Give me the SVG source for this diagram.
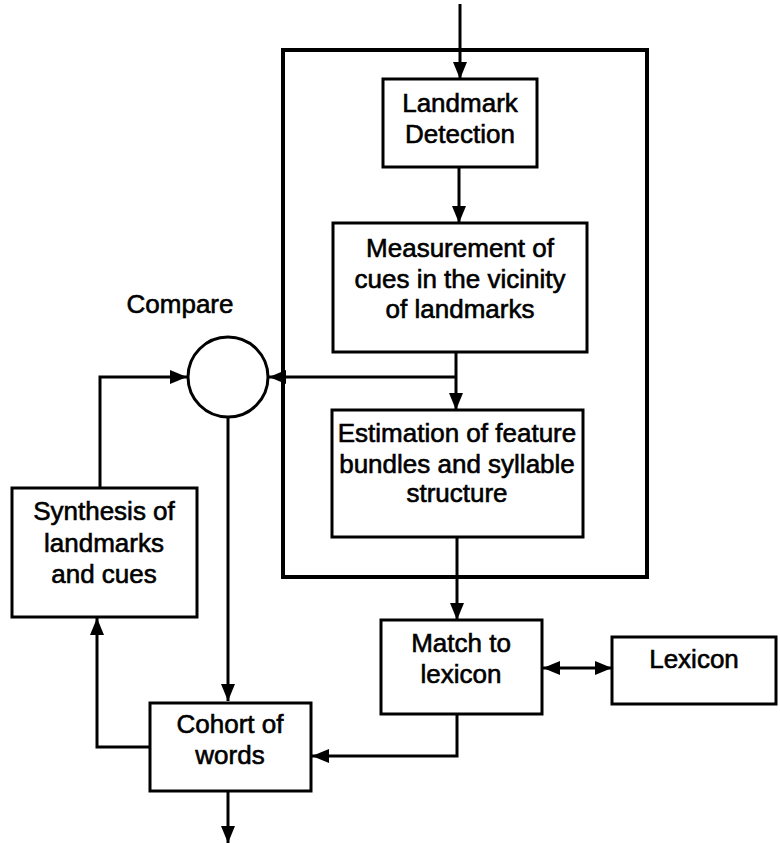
<svg xmlns="http://www.w3.org/2000/svg" width="780" height="843" viewBox="0 0 780 843">
<style>
  .box { fill: #ffffff; stroke: #000; stroke-width: 3; }
  .frame { fill: none; stroke: #000; stroke-width: 4; }
  .lbl { font-family: "Liberation Sans", Arial, sans-serif; font-size: 26px; fill: #000; stroke: #000; stroke-width: 0.6; text-anchor: middle; }
  .conn { fill: none; stroke: #000; stroke-width: 3; }
</style>
<defs>
  <marker id="arr" markerUnits="userSpaceOnUse" markerWidth="18" markerHeight="14" refX="17" refY="7" orient="auto">
    <path d="M0,0 L17,7 L0,14 z" fill="#000"/>
  </marker>
  <marker id="arrS" markerUnits="userSpaceOnUse" markerWidth="18" markerHeight="14" refX="1" refY="7" orient="auto">
    <path d="M18,0 L1,7 L18,14 z" fill="#000"/>
  </marker>
</defs>
<rect x="0" y="0" width="780" height="843" fill="#ffffff"/>

<g id="frame"><rect class="frame" x="283" y="50" width="364" height="527"/></g>

<g id="connectors">
  <line class="conn" x1="460" y1="4" x2="460" y2="79" marker-end="url(#arr)"/>
  <line class="conn" x1="459" y1="167" x2="459" y2="223" marker-end="url(#arr)"/>
  <line class="conn" x1="456" y1="352" x2="456" y2="410" marker-end="url(#arr)"/>
  <polyline class="conn" points="456,377 269,377" marker-end="url(#arr)"/>
  <polyline class="conn" points="100,488 100,377 187,377" marker-end="url(#arr)"/>
  <line class="conn" x1="228" y1="417" x2="228" y2="701" marker-end="url(#arr)"/>
  <line class="conn" x1="457" y1="537" x2="457" y2="620" marker-end="url(#arr)"/>
  <line class="conn" x1="543" y1="668" x2="612" y2="668" marker-start="url(#arrS)" marker-end="url(#arr)"/>
  <polyline class="conn" points="457,714 457,756 312,756" marker-end="url(#arr)"/>
  <polyline class="conn" points="150,747 97,747 97,618" marker-end="url(#arr)"/>
  <line class="conn" x1="228" y1="791" x2="228" y2="843" marker-end="url(#arr)"/>
</g>

<g id="landmark-detection">
  <rect class="box" x="383" y="79" width="154" height="88"/>
  <text class="lbl" x="460" y="112">Landmark</text>
  <text class="lbl" x="460" y="143">Detection</text>
</g>

<g id="measurement">
  <rect class="box" x="333" y="223" width="254" height="129"/>
  <text class="lbl" x="460" y="257">Measurement of</text>
  <text class="lbl" x="460" y="288">cues in the vicinity</text>
  <text class="lbl" x="460" y="318">of landmarks</text>
</g>

<g id="estimation">
  <rect class="box" x="332" y="410" width="251" height="127"/>
  <text class="lbl" x="457" y="442">Estimation of feature</text>
  <text class="lbl" x="457" y="473">bundles and syllable</text>
  <text class="lbl" x="457" y="502">structure</text>
</g>

<g id="compare">
  <circle class="box" cx="228" cy="377" r="40"/>
  <text class="lbl" x="180" y="313">Compare</text>
</g>

<g id="synthesis">
  <rect class="box" x="12" y="488" width="185" height="129"/>
  <text class="lbl" x="104" y="520">Synthesis of</text>
  <text class="lbl" x="104" y="552">landmarks</text>
  <text class="lbl" x="104" y="583">and cues</text>
</g>

<g id="match">
  <rect class="box" x="381" y="620" width="161" height="94"/>
  <text class="lbl" x="461" y="652">Match to</text>
  <text class="lbl" x="461" y="683">lexicon</text>
</g>

<g id="lexicon">
  <rect class="box" x="612" y="637" width="164" height="67"/>
  <text class="lbl" x="694" y="668">Lexicon</text>
</g>

<g id="cohort">
  <rect class="box" x="150" y="703" width="161" height="88"/>
  <text class="lbl" x="230" y="733">Cohort of</text>
  <text class="lbl" x="230" y="764">words</text>
</g>
</svg>
